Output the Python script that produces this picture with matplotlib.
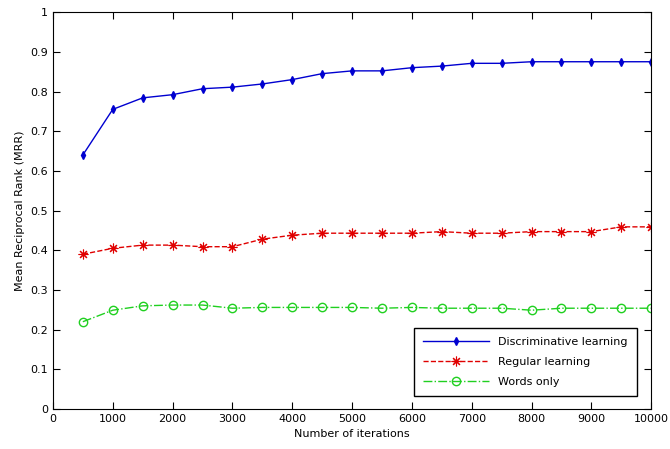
import matplotlib
matplotlib.use('Agg')
import matplotlib.pyplot as plt

# Dados
iteracoes = [500, 1000, 1500, 2000, 2500, 3000, 3500, 4000, 4500, 5000,
             5500, 6000, 6500, 7000, 7500, 8000, 8500, 9000, 9500, 10000]
discriminativo = [0.640, 0.755, 0.784, 0.792, 0.807, 0.811, 0.819, 0.830, 0.845, 0.852,
                  0.852, 0.860, 0.864, 0.871, 0.871, 0.875, 0.875, 0.875, 0.875, 0.875]
regular = [0.390, 0.405, 0.413, 0.413, 0.409, 0.409, 0.428, 0.438, 0.443, 0.443,
           0.443, 0.443, 0.447, 0.443, 0.443, 0.447, 0.447, 0.447, 0.459, 0.459]
palavras = [0.220, 0.249, 0.260, 0.262, 0.262, 0.254, 0.256, 0.256, 0.256, 0.256,
            0.254, 0.256, 0.254, 0.254, 0.254, 0.249, 0.254, 0.254, 0.254, 0.254]

fig = plt.figure(figsize=(6.7, 4.49), dpi=100)
ax = fig.add_axes([0.079, 0.089, 0.893, 0.884])

ax.plot(iteracoes, discriminativo, color='#0000d0', linestyle='-', marker='d',
        markersize=4, linewidth=1, label='Discriminative learning')
ax.plot(iteracoes, regular, color='#e00000', linestyle='--', marker=(8, 2, 0),
        markersize=7, markeredgewidth=0.8, linewidth=1, label='Regular learning')
ax.plot(iteracoes, palavras, color='#20d020', linestyle='-.', marker='o',
        markerfacecolor='none', markersize=6, linewidth=1, label='Words only')

ax.set_xlim(0, 10000)
ax.set_ylim(0, 1)
ax.set_xticks(range(0, 10001, 1000))
ax.set_yticks([i / 10 for i in range(11)])
ax.set_yticklabels(['0', '0.1', '0.2', '0.3', '0.4', '0.5', '0.6', '0.7', '0.8', '0.9', '1'])
ax.tick_params(direction='in', top=True, right=True, labelsize=8, length=5)
ax.set_xlabel('Number of iterations', fontsize=8)
ax.set_ylabel('Mean Reciprocal Rank (MRR)', fontsize=8)

leg = ax.legend(loc='lower right', bbox_to_anchor=(0.985, 0.02), fontsize=8,
                fancybox=False, edgecolor='black', framealpha=1,
                handlelength=6, borderpad=0.8, labelspacing=0.9)
leg.get_frame().set_linewidth(1)

plt.savefig('out.png')
